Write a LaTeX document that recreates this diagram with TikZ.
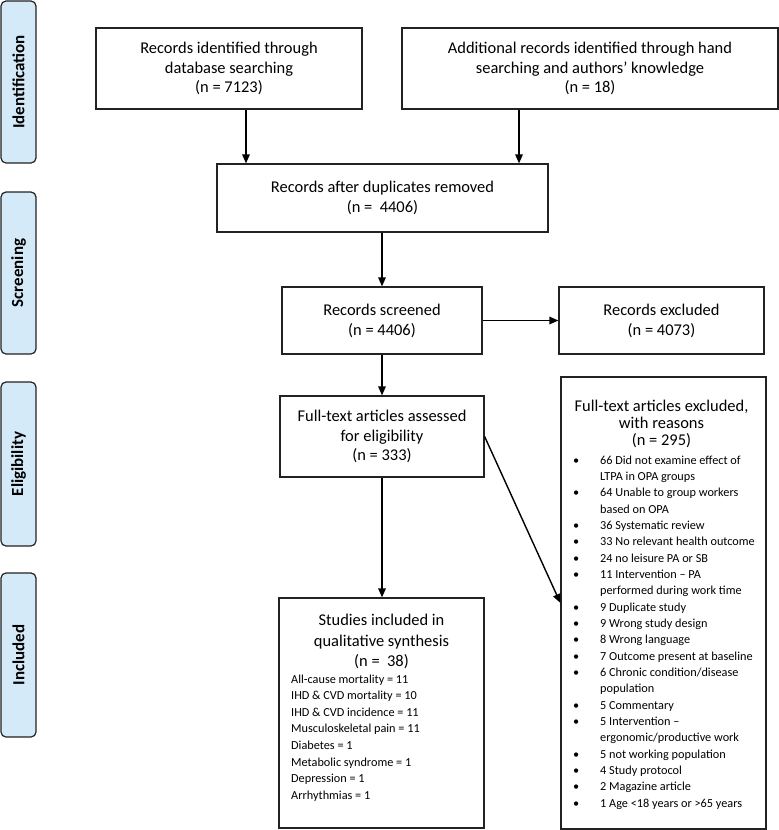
\documentclass[tikz,border=0pt]{standalone}
\usepackage{fontspec}
\setmainfont{Carlito}
\usetikzlibrary{arrows.meta}
\definecolor{barblue}{HTML}{D5EAF8}
\definecolor{linegray}{HTML}{222222}
\begin{document}
\begin{tikzpicture}[x=1bp,y=-1bp,
  box/.style={draw=linegray, line width=1.2bp, inner sep=0pt, align=center, font=\fontsize{16.5}{20}\selectfont},
  bar/.style={draw=linegray, line width=1.2bp, fill=barblue, rounded corners=5bp, inner sep=0pt, minimum height=35bp, rotate=90, font=\bfseries\fontsize{17}{19}\selectfont},
  arr/.style={line width=1.4bp, draw=black, -{Triangle[length=9bp,width=7.5bp]}},
  lst/.style={inner sep=0pt, align=left}
]
\useasboundingbox (0,0) rectangle (779,830);

% phase bars
\node[bar, minimum width=162bp] (bid) at (18.5,82) {Identification};
\node[bar, minimum width=162bp] (bsc) at (18.5,273) {Screening};
\node[bar, minimum width=164bp] (bel) at (18.5,464) {Eligibility};
\node[bar, minimum width=164bp] (bin) at (18.5,655) {Included};

% boxes
\node[box, minimum width=266bp, minimum height=81bp] (db) at (229,68.5)
  {Records identified through\\database searching\\(n = 7123)};
\node[box, minimum width=376bp, minimum height=81bp] (hs) at (590,68.5)
  {Additional records identified through hand\\searching and authors’ knowledge\\(n = 18)};
\node[box, minimum width=331bp, minimum height=68bp] (dup) at (382.5,198)
  {Records after duplicates removed\\(n = \ 4406)};
\node[box, minimum width=200bp, minimum height=67bp] (scr) at (382,320.5)
  {Records screened\\(n = 4406)};
\node[box, minimum width=205bp, minimum height=67bp] (exc) at (661.5,320.5)
  {Records excluded\\(n = 4073)};
\node[box, minimum width=204bp, minimum height=81bp] (ft) at (382,436.5)
  {Full-text articles assessed\\for eligibility\\(n = 333)};
\node[box, minimum width=205bp, minimum height=230bp] (st) at (381.5,713) {};
\node[box, minimum width=205bp, minimum height=452bp] (exft) at (663.5,603) {};

% texts of the tall boxes
\node[align=center, inner sep=0pt, font=\fontsize{16.5}{20.5}\selectfont] (sth) at (381.5,641.5)
  {Studies included in\\qualitative synthesis\\(n = \ 38)};
\node[lst, anchor=base west, font=\fontsize{12.3}{16.7}\selectfont] (stl) at (291,683)
  {\begin{tabular}[t]{@{}l@{}}
   All-cause mortality = 11\\
   IHD \& CVD mortality = 10\\
   IHD \& CVD incidence = 11\\
   Musculoskeletal pain = 11\\
   Diabetes = 1\\
   Metabolic syndrome = 1\\
   Depression = 1\\
   Arrhythmias = 1
   \end{tabular}};
\node[align=center, inner sep=0pt, font=\fontsize{16.5}{17}\selectfont] (exh) at (661.5,423.5)
  {Full-text articles excluded,\\with reasons\\(n = 295)};
\node[lst, anchor=base west, font=\fontsize{12.3}{16.4}\selectfont] (exl) at (570,464)
  {\begin{tabular}[t]{@{}p{30bp}@{}l@{}}
   \hspace*{3bp}\textbullet & 66 Did not examine effect of\\
    & LTPA in OPA groups\\
   \hspace*{3bp}\textbullet & 64 Unable to group workers\\
    & based on OPA\\
   \hspace*{3bp}\textbullet & 36 Systematic review\\
   \hspace*{3bp}\textbullet & 33 No relevant health outcome\\
   \hspace*{3bp}\textbullet & 24 no leisure PA or SB\\
   \hspace*{3bp}\textbullet & 11 Intervention – PA\\
    & performed during work time\\
   \hspace*{3bp}\textbullet & 9 Duplicate study\\
   \hspace*{3bp}\textbullet & 9 Wrong study design\\
   \hspace*{3bp}\textbullet & 8 Wrong language\\
   \hspace*{3bp}\textbullet & 7 Outcome present at baseline\\
   \hspace*{3bp}\textbullet & 6 Chronic condition/disease\\
    & population\\
   \hspace*{3bp}\textbullet & 5 Commentary\\
   \hspace*{3bp}\textbullet & 5 Intervention –\\
    & ergonomic/productive work\\
   \hspace*{3bp}\textbullet & 5 not working population\\
   \hspace*{3bp}\textbullet & 4 Study protocol\\
   \hspace*{3bp}\textbullet & 2 Magazine article\\
   \hspace*{3bp}\textbullet & 1 Age <18 years or >65 years
   \end{tabular}};

% connectors
\draw[arr] (246,0 |- db.south) -- (246,0 |- dup.north);
\draw[arr] (519,0 |- hs.south) -- (519,0 |- dup.north);
\draw[arr] (scr.north |- dup.south) -- (scr.north);
\draw[arr] (scr.east) -- (exc.west);
\draw[arr] (scr.south) -- (ft.north);
\draw[arr] (ft.south) -- (ft.south |- st.north);
\draw[arr] (ft.east) -- (exft.west);
\end{tikzpicture}
\end{document}
